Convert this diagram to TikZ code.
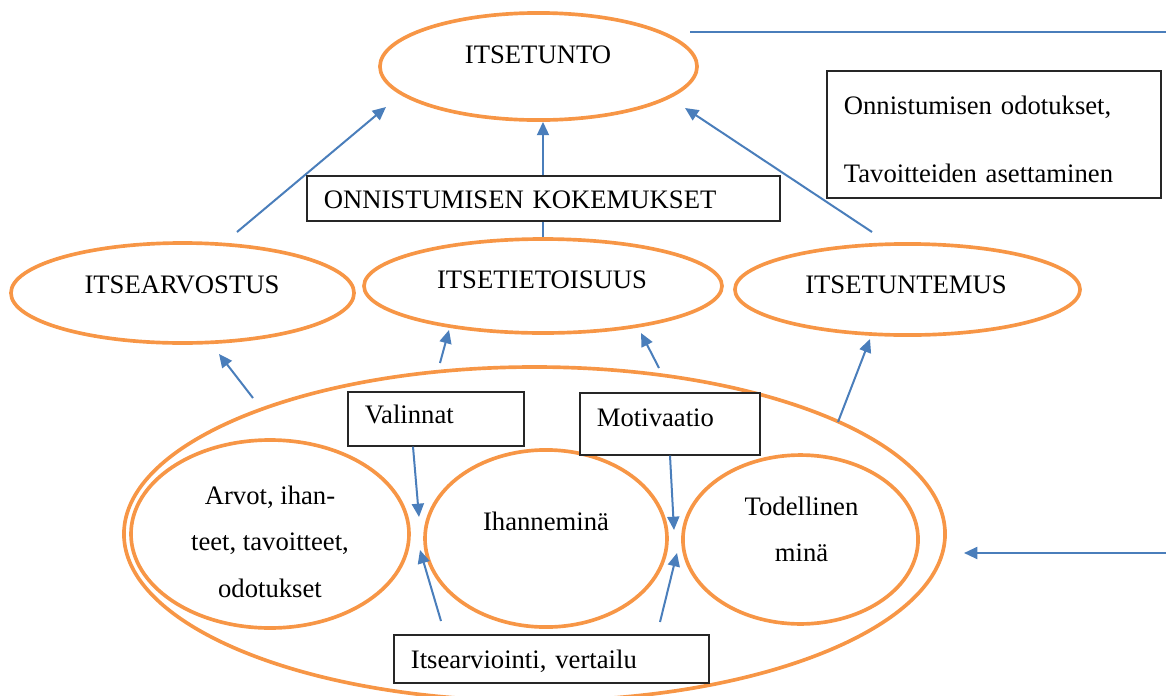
\documentclass[tikz,border=0pt]{standalone}
\usepackage{fontspec}
\setmainfont{Liberation Serif}
\usetikzlibrary{shapes.geometric,arrows.meta,calc}
\definecolor{ovalorange}{HTML}{F79646}
\definecolor{arrowblue}{HTML}{4A7EBB}

\begin{document}
\begin{tikzpicture}[x=0.45pt,y=-0.45pt,
  font=\fontsize{12}{14.4}\selectfont,
  oval/.style={ellipse,draw=ovalorange,line width=1.65pt,inner sep=0pt},
  txt/.style={inner sep=0pt,anchor=base},
  tbox/.style={draw=black!85,line width=0.55pt,fill=white,align=left,inner xsep=7.6pt,inner ysep=0pt},
  arr/.style={draw=arrowblue,line width=0.9pt,-{Triangle[length=6pt,width=5.4pt]}},
  viiva/.style={draw=arrowblue,line width=0.9pt}]
\path[use as bounding box] (0,0) rectangle (1166,696);
\node[oval,minimum width=142.7pt,minimum height=48.2pt] (itsetunto) at (538.5,66.5) {};
\node[txt] (itsetunto-t) at (538,63) {ITSETUNTO};
\node[oval,minimum width=154.4pt,minimum height=45pt] (arvostus) at (182.5,293) {};
\node[txt] (arvostus-t) at (182,293) {ITSEARVOSTUS};
\node[oval,minimum width=161.1pt,minimum height=42.3pt] (tietoisuus) at (543,286) {};
\node[txt] (tietoisuus-t) at (542,288) {ITSETIETOISUUS};
\node[oval,minimum width=155.3pt,minimum height=41pt] (tuntemus) at (907.5,289.5) {};
\node[txt] (tuntemus-t) at (906,293) {ITSETUNTEMUS};
\node[oval,minimum width=369.5pt,minimum height=150.3pt] (kokonaisuus) at (534.5,534) {};
\node[oval,minimum width=125.1pt,minimum height=84.6pt] (arvot) at (270,534) {};
\node[txt,anchor=center,align=center,font=\fontsize{12}{20.9}\selectfont] (arvot-t) at (270,541.6) {Arvot, ihan-\\teet, tavoitteet,\\odotukset};
\node[oval,minimum width=108.9pt,minimum height=79.7pt] (ihanne) at (546,538.5) {};
\node[txt] (ihanne-t) at (546,530.5) {Ihanneminä};
\node[oval,minimum width=105.8pt,minimum height=76pt] (todellinen) at (800.5,539.5) {};
\node[txt,anchor=center,align=center,font=\fontsize{12}{21}\selectfont] (todellinen-t) at (801.5,529.3) {Todellinen\\minä};

\coordinate (arvostus-a) at (237,232);
\coordinate (itsetunto-v) at (386,107);
\coordinate (tuntemus-a) at (872,232);
\coordinate (itsetunto-o) at (685,108);
\coordinate (koko-1) at (253,398);
\coordinate (arvostus-k) at (219,354);
\coordinate (koko-2) at (440,363);
\coordinate (tietoisuus-v) at (449,330);
\coordinate (koko-3) at (659,368);
\coordinate (tietoisuus-o) at (641,333);
\coordinate (koko-4) at (838,422);
\coordinate (tuntemus-k) at (870,339);
\coordinate (valinnat-k) at (419,517);
\coordinate (motivaatio-k) at (674,530);
\coordinate (arviointi-1) at (441,621);
\coordinate (arviointi-1k) at (420,550);
\coordinate (arviointi-2) at (660,622);
\coordinate (arviointi-2k) at (677,553);
\coordinate (oikea) at (1166,553);
\coordinate (oikea-k) at (964,553);
\coordinate (viiva-a) at (690,32);
\coordinate (viiva-b) at (1166,32);

\draw[viiva] (viiva-a) -- (viiva-b);
\draw[arr] (tietoisuus.north) -- (tietoisuus.north |- itsetunto.south);
\draw[arr] (arvostus-a) -- (itsetunto-v);
\draw[arr] (tuntemus-a) -- (itsetunto-o);
\draw[arr] (koko-1) -- (arvostus-k);
\draw[arr] (koko-2) -- (tietoisuus-v);
\draw[arr] (koko-3) -- (tietoisuus-o);
\draw[arr] (koko-4) -- (tuntemus-k);
\draw[arr] (oikea) -- (oikea-k);

\node[tbox,text width=135.1pt,minimum height=57.2pt,font=\fontsize{12}{31}\selectfont] (odotukset) at (994,134.5) {\rule{0pt}{12.7pt}Onnistumisen odotukset,\\Tavoitteiden asettaminen};
\node[tbox,text width=197.7pt,minimum height=20.3pt,text height=8.55pt,text depth=0pt] (kokemukset) at (543.5,198.5) {ONNISTUMISEN KOKEMUKSET};
\node[tbox,text width=64pt,minimum height=24.3pt,text height=8.5pt,text depth=4.6pt] (valinnat) at (436,419) {Valinnat};
\node[tbox,text width=65.8pt,minimum height=27.9pt,text height=8.5pt,text depth=6.7pt] (motivaatio) at (670,424) {Motivaatio};
\node[tbox,text width=126.5pt,minimum height=21.6pt,text height=8.5pt,text depth=0.1pt] (arviointi) at (551.5,659) {Itsearviointi, vertailu};

\draw[arr] ($(valinnat.south)+(-23,0)$) -- (valinnat-k);
\draw[arr] (motivaatio.south) -- (motivaatio-k);
\draw[arr] (arviointi-1) -- (arviointi-1k);
\draw[arr] (arviointi-2) -- (arviointi-2k);
\end{tikzpicture}
\end{document}
